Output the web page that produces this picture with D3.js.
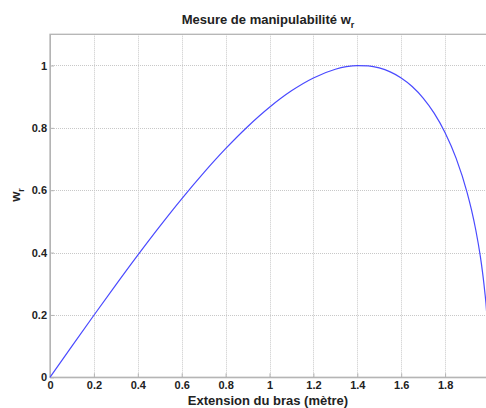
<!DOCTYPE html>
<html><head><meta charset="utf-8">
<script src="https://cdn.jsdelivr.net/npm/d3@7"></script>
<style>body{margin:0;background:#fff}svg{display:block}text{font-family:"Liberation Sans",Arial,sans-serif;font-weight:bold;fill:#222}</style>
</head><body><svg id="c" width="486" height="408"></svg>
<script>
const extension = [0,0.1,0.2,0.3,0.4,0.5,0.6,0.7,0.8,0.9,1.0,1.1,1.2,1.3,1.35,1.4,1.45,1.5,1.55,1.6,1.65,1.7,1.75,1.8,1.85,1.9,1.92,1.94,1.96,1.97,1.98,1.99,2.0];
const manip = [0,0.0999,0.1990,0.2966,0.3919,0.4841,0.5724,0.6557,0.7332,0.8037,0.8660,0.9187,0.96,0.9879,0.9961,0.9998,0.9987,0.9922,0.9795,0.96,0.9325,0.8955,0.8472,0.7846,0.7029,0.5933,0.5376,0.4716,0.3900,0.3399,0.2793,0.1988,0];
const xTicks = [0,0.2,0.4,0.6,0.8,1,1.2,1.4,1.6,1.8,2];
const yTicks = [0,0.2,0.4,0.6,0.8,1];

const svg = d3.select("#c");
const L=50,R=489,T=34.3,B=377.3;
const x = d3.scaleLinear().domain([0,2]).range([L,R]);
const y = d3.scaleLinear().domain([0,1.1]).range([B,T]);

// grid
const g = svg.append("g");
g.selectAll(".vx").data(xTicks.slice(1)).enter().append("line")
  .attr("x1",d=>Math.round(x(d))+0.5).attr("x2",d=>Math.round(x(d))+0.5)
  .attr("y1",T).attr("y2",B).attr("stroke","#c8c8c8").attr("stroke-dasharray","1,1");
g.selectAll(".hy").data(yTicks.slice(1)).enter().append("line")
  .attr("y1",d=>Math.round(y(d))+0.5).attr("y2",d=>Math.round(y(d))+0.5)
  .attr("x1",L).attr("x2",R).attr("stroke","#c8c8c8").attr("stroke-dasharray","1,1");

// frame
svg.append("rect").attr("x",L).attr("y",T).attr("width",R-L).attr("height",B-T)
  .attr("fill","none").attr("stroke","#b4b4b4").attr("stroke-width",1.3);

// axes
const xa = svg.append("g").attr("transform",`translate(0,${B})`)
  .call(d3.axisBottom(x).tickValues(xTicks).tickFormat(d3.format("")).tickSizeInner(-4).tickSizeOuter(0).tickPadding(4));
const ya = svg.append("g").attr("transform",`translate(${L},0)`)
  .call(d3.axisLeft(y).tickValues(yTicks).tickFormat(d3.format("")).tickSizeInner(-4).tickSizeOuter(0).tickPadding(3));
[xa,ya].forEach(a=>{a.select(".domain").attr("stroke","#b4b4b4");a.selectAll(".tick line").attr("stroke","#b4b4b4");
  a.selectAll("text").attr("font-size",11).attr("font-family","Liberation Sans, Arial, sans-serif").attr("font-weight","bold").attr("fill","#222");});

// curve
svg.append("path").datum(extension.map((v,i)=>[v,manip[i]]))
  .attr("d",d3.line().x(d=>x(d[0])).y(d=>y(d[1])).curve(d3.curveMonotoneX))
  .attr("fill","none").attr("stroke","#4a4aff").attr("stroke-width",1.2);

// title
const t = svg.append("text").attr("x",268).attr("y",24).attr("text-anchor","middle").attr("font-size",13);
t.append("tspan").text("Mesure de manipulabilité w");
t.append("tspan").attr("font-size",9).attr("dy",4).text("r");

svg.append("text").attr("x",268).attr("y",405).attr("text-anchor","middle").attr("font-size",13)
  .text("Extension du bras (mètre)");

const yl = svg.append("text").attr("transform","translate(20,195) rotate(-90)").attr("text-anchor","middle").attr("font-size",13);
yl.append("tspan").text("w");
yl.append("tspan").attr("font-size",9).attr("dy",4).text("r");
</script></body></html>
